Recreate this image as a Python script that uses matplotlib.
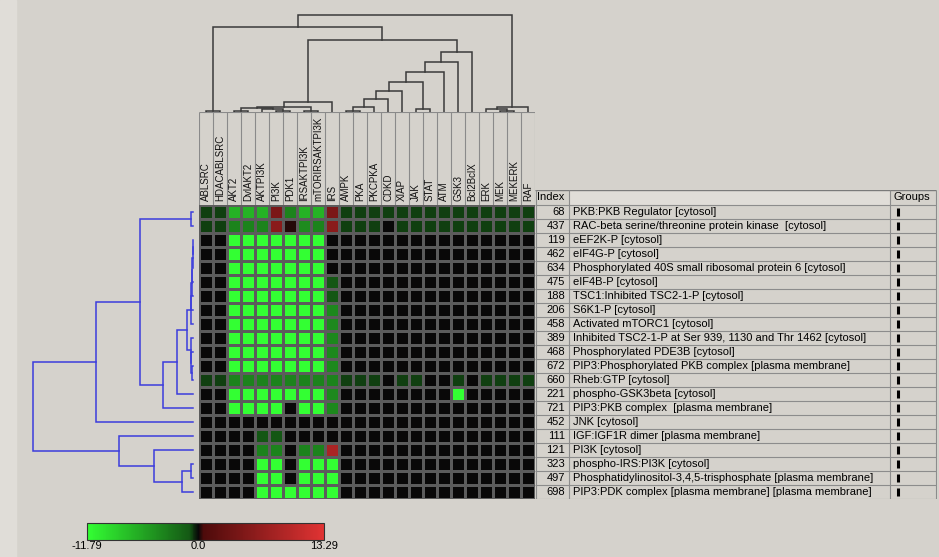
import numpy as np
import matplotlib
matplotlib.use("Agg")
import matplotlib.pyplot as plt
from matplotlib.colors import LinearSegmentedColormap, Normalize
from matplotlib.cm import ScalarMappable

plt.rcParams['font.family'] = ['Liberation Sans', 'DejaVu Sans']

# ---------------------------------------------------------------------------
# Data
# ---------------------------------------------------------------------------
col_labels = ["ABLSRC", "HDACABLSRC", "AKT2", "DvlAKT2", "AKTPI3K", "PI3K",
              "PDK1", "IRSAKTPI3K", "mTORIRSAKTPI3K", "IRS", "AMPK", "PKA",
              "PKCPKA", "CDKD", "XIAP", "JAK", "STAT", "ATM", "GSK3",
              "Bcl2BclX", "ERK", "MEK", "MEKERK", "RAF"]

row_index = [68, 437, 119, 462, 634, 475, 188, 206, 458, 389, 468, 672, 660,
             221, 721, 452, 111, 121, 323, 497, 698]

row_names = [
    "PKB:PKB Regulator [cytosol]",
    "RAC-beta serine/threonine protein kinase  [cytosol]",
    "eEF2K-P [cytosol]",
    "eIF4G-P [cytosol]",
    "Phosphorylated 40S small ribosomal protein 6 [cytosol]",
    "eIF4B-P [cytosol]",
    "TSC1:Inhibited TSC2-1-P [cytosol]",
    "S6K1-P [cytosol]",
    "Activated mTORC1 [cytosol]",
    "Inhibited TSC2-1-P at Ser 939, 1130 and Thr 1462 [cytosol]",
    "Phosphorylated PDE3B [cytosol]",
    "PIP3:Phosphorylated PKB complex [plasma membrane]",
    "Rheb:GTP [cytosol]",
    "phospho-GSK3beta [cytosol]",
    "PIP3:PKB complex  [plasma membrane]",
    "JNK [cytosol]",
    "IGF:IGF1R dimer [plasma membrane]",
    "PI3K [cytosol]",
    "phospho-IRS:PI3K [cytosol]",
    "Phosphatidylinositol-3,4,5-trisphosphate [plasma membrane]",
    "PIP3:PDK complex [plasma membrane] [plasma membrane]",
]

vmin, vmax = -11.79, 13.29

values = np.array([
    # ABL  HDAC  AKT2  Dvl   AKTP  PI3K  PDK1  IRSA  mTOR  IRS   AMPK  PKA   PKC   CDKD  XIAP  JAK   STAT  ATM   GSK3  Bcl2  ERK   MEK   MEKE  RAF
    [-0.65, -0.65, -6.7, -6.7, -6.7, 4.5, -3.7, -6.7, -6.7, 4.5, -0.65, -0.65, -0.65, -0.65, -0.65, -0.65, -0.65, -0.65, -0.65, -0.65, -0.65, -0.65, -0.65, -0.65],
    [-0.65, -0.65, -3.7, -3.7, -3.7, 5.8, 0.25, -4.2, -3.7, 5.8, -0.65, -0.65, -0.65, 0.0, -0.65, -0.65, -0.65, -0.65, -0.65, -0.65, -0.65, -0.65, -0.65, -0.65],
    [0.0, 0.0, -11.79, -11.79, -11.79, -11.79, -11.79, -11.79, -11.79, 0.0, 0.0, 0.0, 0.0, 0.0, 0.0, 0.0, 0.0, 0.0, 0.0, 0.0, 0.0, 0.0, 0.0, 0.0],
    [0.0, 0.0, -11.79, -11.79, -11.79, -11.79, -11.79, -11.79, -11.79, 0.0, 0.0, 0.0, 0.0, 0.0, 0.0, 0.0, 0.0, 0.0, 0.0, 0.0, 0.0, 0.0, 0.0, 0.0],
    [0.0, 0.0, -11.79, -11.79, -11.79, -11.79, -11.79, -11.79, -11.79, 0.0, 0.0, 0.0, 0.0, 0.0, 0.0, 0.0, 0.0, 0.0, 0.0, 0.0, 0.0, 0.0, 0.0, 0.0],
    [0.0, 0.0, -11.79, -11.79, -11.79, -11.79, -11.79, -11.79, -11.79, -1.0, 0.0, 0.0, 0.0, 0.0, 0.0, 0.0, 0.0, 0.0, 0.0, 0.0, 0.0, 0.0, 0.0, 0.0],
    [0.0, 0.0, -11.79, -11.79, -11.79, -11.79, -11.79, -11.79, -11.79, -1.0, 0.0, 0.0, 0.0, 0.0, 0.0, 0.0, 0.0, 0.0, 0.0, 0.0, 0.0, 0.0, 0.0, 0.0],
    [0.0, 0.0, -11.79, -11.79, -11.79, -11.79, -11.79, -11.79, -11.79, -4.0, 0.0, 0.0, 0.0, 0.0, 0.0, 0.0, 0.0, 0.0, 0.0, 0.0, 0.0, 0.0, 0.0, 0.0],
    [0.0, 0.0, -11.79, -11.79, -11.79, -11.79, -11.79, -11.79, -11.79, -4.0, 0.0, 0.0, 0.0, 0.0, 0.0, 0.0, 0.0, 0.0, 0.0, 0.0, 0.0, 0.0, 0.0, 0.0],
    [0.0, 0.0, -11.79, -11.79, -11.79, -11.79, -11.79, -11.79, -11.79, -4.0, 0.0, 0.0, 0.0, 0.0, 0.0, 0.0, 0.0, 0.0, 0.0, 0.0, 0.0, 0.0, 0.0, 0.0],
    [0.0, 0.0, -11.79, -11.79, -11.79, -11.79, -11.79, -11.79, -11.79, -4.0, 0.0, 0.0, 0.0, 0.0, 0.0, 0.0, 0.0, 0.0, 0.0, 0.0, 0.0, 0.0, 0.0, 0.0],
    [0.0, 0.0, -11.79, -11.79, -11.79, -11.79, -11.79, -11.79, -11.79, -4.0, 0.0, 0.0, 0.0, 0.0, 0.0, 0.0, 0.0, 0.0, 0.0, 0.0, 0.0, 0.0, 0.0, 0.0],
    [-0.65, -0.65, -3.7, -3.7, -3.7, -3.7, -3.7, -3.7, -3.7, -3.7, -0.65, -0.65, -0.65, 0.0, -0.65, -0.65, 0.0, 0.0, -0.65, 0.0, -0.65, -0.65, -0.65, -0.65],
    [0.0, 0.0, -11.79, -11.79, -11.79, -11.79, -11.79, -11.79, -11.79, -4.0, 0.0, 0.0, 0.0, 0.0, 0.0, 0.0, 0.0, 0.0, -11.79, 0.0, 0.0, 0.0, 0.0, 0.0],
    [0.0, 0.0, -11.79, -11.79, -11.79, -11.79, 0.0, -11.79, -11.79, -4.0, 0.0, 0.0, 0.0, 0.0, 0.0, 0.0, 0.0, 0.0, 0.0, 0.0, 0.0, 0.0, 0.0, 0.0],
    [0.0, 0.0, 0.0, 0.0, 0.0, 0.0, 0.0, 0.0, 0.0, 0.0, 0.0, 0.0, 0.0, 0.0, 0.0, 0.0, 0.0, 0.0, 0.0, 0.0, 0.0, 0.0, 0.0, 0.0],
    [0.0, 0.0, 0.0, 0.0, -1.0, -1.0, 0.0, 0.0, 0.0, 0.0, 0.0, 0.0, 0.0, 0.0, 0.0, 0.0, 0.0, 0.0, 0.0, 0.0, 0.0, 0.0, 0.0, 0.0],
    [0.0, 0.0, 0.0, 0.0, -3.7, -3.7, 0.0, -3.7, -3.7, 8.5, 0.0, 0.0, 0.0, 0.0, 0.0, 0.0, 0.0, 0.0, 0.0, 0.0, 0.0, 0.0, 0.0, 0.0],
    [0.0, 0.0, 0.0, 0.0, -11.79, -11.79, 0.0, -11.79, -11.79, -11.79, 0.0, 0.0, 0.0, 0.0, 0.0, 0.0, 0.0, 0.0, 0.0, 0.0, 0.0, 0.0, 0.0, 0.0],
    [0.0, 0.0, 0.0, 0.0, -11.79, -11.79, 0.0, -11.79, -11.79, -11.79, 0.0, 0.0, 0.0, 0.0, 0.0, 0.0, 0.0, 0.0, 0.0, 0.0, 0.0, 0.0, 0.0, 0.0],
    [0.0, 0.0, 0.0, 0.0, -11.79, -11.79, -11.79, -11.79, -11.79, -11.79, 0.0, 0.0, 0.0, 0.0, 0.0, 0.0, 0.0, 0.0, 0.0, 0.0, 0.0, 0.0, 0.0, 0.0],
])

# cluster trees: (left, right, height); leaves are column / row indices
col_abl = (0, 1, 1.5)
col_akt = ((((2, 3, 1), (4, (5, 6, 1.5), 3), 4), (7, 8, 1), 5.5), 9, 10.3)
col_mid = (10, 11, 1.5)
for leaf, h in [(12, 5), (13, 13), (14, 21), ((15, 16, 3.5), 30),
                (17, 40), (18, 50), (19, 60)]:
    col_mid = (col_mid, leaf, h)
col_mek = ((20, (21, 22, 1), 2.7), 23, 4.7)
col_tree = ((col_abl, (col_akt, col_mid, 72), 85), col_mek, 97)

rows_a = ((((((2, 3, 0.5), 4, 0.5), 5, 0.8), 6, 1.2), 7, 1.6), 8, 2.0)
rows_b = (9, (10, (11, 12, 1.2), 1.6), 2.2)
rows_up = ((rows_a, rows_b, 6.3), 13, 16.3)
rows_up = ((0, 1, 2), (rows_up, 14, 30), 53)
rows_up = (rows_up, 15, 97)
rows_low = (16, (17, ((18, 19, 2), 20, 11), 39), 74)
row_tree = (rows_up, rows_low, 160)

# ---------------------------------------------------------------------------
# Layout helpers (pixel boxes -> figure fractions)
# ---------------------------------------------------------------------------
W, H = 939, 557
BG = "#d5d2cc"


def box(x0, y0, x1, y1):
    return [x0 / W, 1 - y1 / H, (x1 - x0) / W, (y1 - y0) / H]


def draw_tree(ax, node, orient, color):
    if isinstance(node, int):
        return node + 0.5, 0.0
    left, right, h = node
    cl, hl = draw_tree(ax, left, orient, color)
    cr, hr = draw_tree(ax, right, orient, color)
    if orient == "top":
        ax.plot([cl, cl, cr, cr], [hl, h, h, hr], color=color, lw=1.1,
                solid_joinstyle="miter", clip_on=False)
    else:
        ax.plot([hl, h, h, hr], [cl, cl, cr, cr], color=color, lw=1.1,
                solid_joinstyle="miter", clip_on=False)
    return (cl + cr) / 2, h


p0 = -vmin / (vmax - vmin)
cmap = LinearSegmentedColormap.from_list("gbr", [
    (0.0, (0.20, 1.00, 0.20)),
    (p0 - 0.04, (0.08, 0.35, 0.08)),
    (p0, (0.03, 0.03, 0.03)),
    (p0 + 0.02, (0.30, 0.04, 0.04)),
    (1.0, (0.88, 0.20, 0.20)),
])
norm = Normalize(vmin=vmin, vmax=vmax)

fig = plt.figure(figsize=(W / 100, H / 100), dpi=100, facecolor=BG)
fig.patches.append(plt.Rectangle((0, 0), 16 / W, 1, transform=fig.transFigure,
                                 color="#e0ddd8", zorder=-1))

n_rows, n_cols = values.shape

##############################################################################
# Heatmap
##############################################################################
ax = fig.add_axes(box(199, 205, 535, 499))
ax.pcolormesh(np.arange(n_cols + 1), np.arange(n_rows + 1), values,
              cmap=cmap, norm=norm, edgecolors="#5c5c5c", linewidth=1.0)
ax.set_xlim(0, n_cols)
ax.set_ylim(n_rows, 0)
ax.axis("off")

##############################################################################
# Column dendrogram
##############################################################################
ax_top = fig.add_axes(box(199, 10, 535, 112))
draw_tree(ax_top, col_tree, "top", "#3a3a3a")
ax_top.set_xlim(0, n_cols)
ax_top.set_ylim(0, 102)
ax_top.axis("off")

##############################################################################
# Row dendrogram
##############################################################################
ax_left = fig.add_axes(box(0, 205, 193, 499))
draw_tree(ax_left, row_tree, "left", "#3c3cdc")
ax_left.set_xlim(193, 0)
ax_left.set_ylim(n_rows, 0)
ax_left.axis("off")

##############################################################################
# Column labels
##############################################################################
ax_lab = fig.add_axes(box(199, 112, 535, 205))
ax_lab.set_xlim(0, n_cols)
ax_lab.set_ylim(0, 93)
ax_lab.vlines(np.arange(n_cols + 1), 0, 93, color="#8a8a8a", lw=0.8)
ax_lab.hlines(93, 0, n_cols, color="#8a8a8a", lw=0.8)
for i, name in enumerate(col_labels):
    ax_lab.text(i + 0.5, 4, name, rotation=90, ha="center", va="bottom",
                fontsize=7, color="#111111")
ax_lab.axis("off")

##############################################################################
# Row table
##############################################################################
ax_tab = fig.add_axes(box(535, 190, 937, 499))
head = -15 / 14
ax_tab.set_xlim(535, 937)
ax_tab.set_ylim(n_rows, head)
ax_tab.fill_between([569, 890], head, 0, color="#e0ddd8", lw=0)
ax_tab.hlines(np.arange(n_rows + 1), 535, 936, color="#8c8c8c", lw=0.8)
ax_tab.hlines(head, 535, 936, color="#7a7a7a", lw=1.0)
ax_tab.vlines([535.5, 569, 890, 936], head, n_rows, color="#8c8c8c", lw=0.8)
ax_tab.text(537, head / 2, "Index", ha="left", va="center", fontsize=8)
ax_tab.text(893, head / 2, "Groups", ha="left", va="center", fontsize=8)
for i, (idx, name) in enumerate(zip(row_index, row_names)):
    ax_tab.text(565, i + 0.5, str(idx), ha="right", va="center", fontsize=8)
    ax_tab.text(573, i + 0.5, name, ha="left", va="center", fontsize=8)
ax_tab.vlines([897.5] * n_rows, np.arange(n_rows) + 0.22,
              np.arange(n_rows) + 0.78, color="black", lw=2.2)
ax_tab.axis("off")

##############################################################################
# Colour bar
##############################################################################
ax_cb = fig.add_axes(box(87, 523, 324, 540))
cb = fig.colorbar(ScalarMappable(norm=norm, cmap=cmap), cax=ax_cb,
                  orientation="horizontal")
cb.set_ticks([vmin, 0.0, vmax])
cb.set_ticklabels(["-11.79", "0.0", "13.29"])
cb.ax.tick_params(length=0, labelsize=8, pad=1)
cb.outline.set_edgecolor("#333333")
cb.outline.set_linewidth(0.8)

fig.savefig("out.png", dpi=100, facecolor=BG)
